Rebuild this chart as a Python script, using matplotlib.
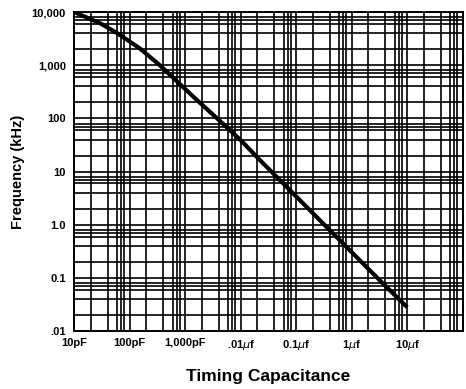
import numpy as np
import matplotlib
matplotlib.use("Agg")
import matplotlib.pyplot as plt
from matplotlib.ticker import FixedLocator, NullFormatter

# curve: timing capacitance (F) vs frequency (kHz)
cap_farads = [10e-12, 30e-12, 60e-12, 150e-12, 350e-12, 1.5e-9, 4.3e-9,
              10e-9, 22e-9, 0.1e-6, 0.9e-6, 3.2e-6, 10e-6]
freq_khz = [10000, 6100, 4000, 2100, 1000, 240, 88,
            39, 16.6, 3.4, 0.34, 0.09, 0.028]

x_ticks = [1e-11, 1e-10, 1e-9, 1e-8, 1e-7, 1e-6, 1e-5]
x_labels = ["10pF", "100pF", "1,000pF", ".01$\\mu$f", "0.1$\\mu$f", "1$\\mu$f", "10$\\mu$f"]
y_ticks = [1e4, 1e3, 1e2, 1e1, 1e0, 1e-1, 1e-2]
y_labels = ["10,000", "1,000", "100", "10", "1.0", "0.1", ".01"]

# the graph paper has lines at 1, 2, 4, 6, 7, 8 in each decade
paper_steps = [2, 4, 6, 7, 8]

plt.rcParams['font.family'] = ['Liberation Sans Narrow', 'Liberation Sans', 'DejaVu Sans']
plt.rcParams['mathtext.fontset'] = 'dejavusans'

fig = plt.figure(figsize=(4.66, 3.89), dpi=100)
ax = fig.add_axes([0.159, 0.149, 0.834, 0.820])

ax.set_xscale('log')
ax.set_yscale('log')
ax.set_xlim(1e-11, 1e-4)
ax.set_ylim(1e-2, 1e4)

x_minor = [s * 10.0 ** e for e in range(-11, -4) for s in paper_steps]
y_minor = [s * 10.0 ** e for e in range(-2, 4) for s in paper_steps]

ax.xaxis.set_major_locator(FixedLocator(x_ticks + [1e-4]))
ax.yaxis.set_major_locator(FixedLocator(y_ticks))
ax.xaxis.set_minor_locator(FixedLocator(x_minor))
ax.yaxis.set_minor_locator(FixedLocator(y_minor))
ax.xaxis.set_minor_formatter(NullFormatter())
ax.yaxis.set_minor_formatter(NullFormatter())
ax.set_xticklabels(x_labels + [""], fontsize=8, fontweight='bold')
ax.set_yticklabels(y_labels, fontsize=8, fontweight='bold')

ax.tick_params(which='both', length=0)
ax.tick_params(axis='x', pad=5)
ax.tick_params(axis='y', pad=6)

ax.grid(True, which='both', color='black', linewidth=1.2)
ax.set_axisbelow(True)
for sp in ax.spines.values():
    sp.set_linewidth(1.4)

ax.plot(cap_farads, freq_khz, color='black', linewidth=3.0, solid_capstyle='butt', zorder=3)

ax.set_xlabel("Timing Capacitance", fontsize=12.5, fontweight='bold', labelpad=12)
ax.set_ylabel("Frequency (kHz)", fontsize=10.5, fontweight='bold', labelpad=5)

fig.savefig("out.png", dpi=100)
